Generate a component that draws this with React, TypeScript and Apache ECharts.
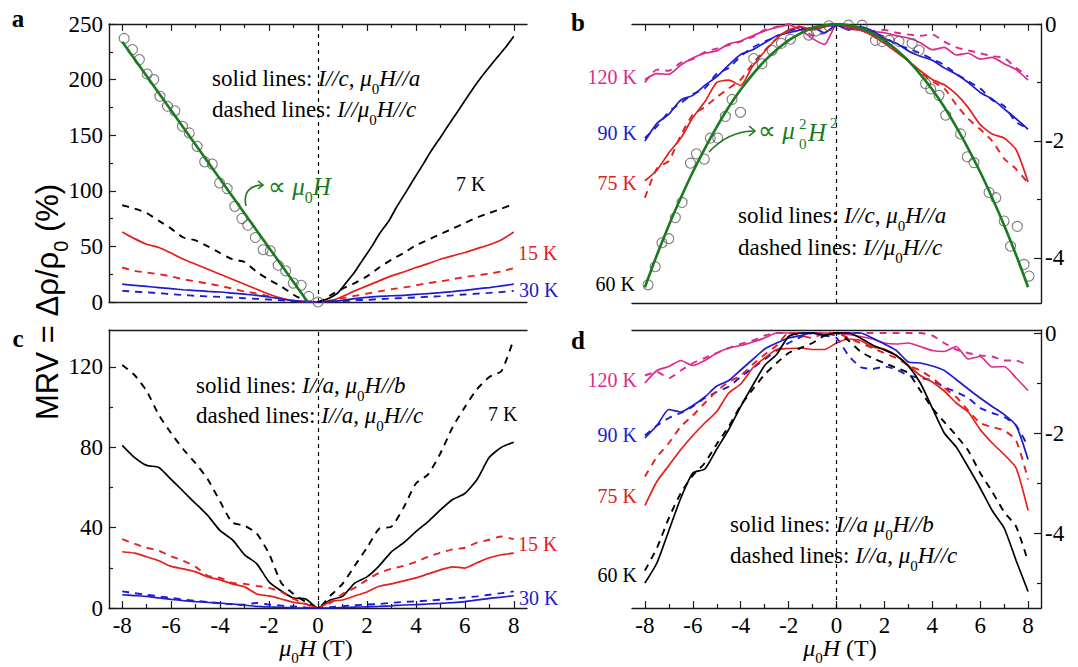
import React, { useEffect, useRef } from 'react';
import * as echarts from 'echarts';

// ---------- data ----------
const H = [-8,-7.5,-7,-6.5,-6,-5.5,-5,-4.5,-4,-3.5,-3,-2.5,-2,-1.5,-1,-0.5,0,0.5,1,1.5,2,2.5,3,3.5,4,4.5,5,5.5,6,6.5,7,7.5,8];

const xTicks = [-8,-6,-4,-2,0,2,4,6,8];
const xMinor = [-7,-5,-3,-1,1,3,5,7];
const aYTicks = [0,50,100,150,200,250];
const aYMinor = [25,75,125,175,225];
const bYTicks = [0,-2,-4];
const bYMinor = [-1,-3];
const cYTicks = [0,40,80,120];
const cYMinor = [20,60,100];
const dYTicks = [0,-2,-4];
const dYMinor = [-1,-3,-5];

// panel a
const aK7d = [87,84,80,73,66,58,55.5,50,44,38.5,36,27,20,14,6.5,1,0,6,12,17,23,31,38,44,51,56,61,66,71,76,80,84,88];
const aK15s = [63,57,52,49,44,38.5,34,29.5,25,20.5,16,11.5,7,3.5,1,0,0,1,5,10,14.5,19,23.5,27,31,34.5,38.5,41.5,44.5,48,51.5,56,63];
const aK15d = [31,28,26.5,25,23,20.5,18.5,16.5,14.5,12,9.5,7.5,5,3,1.2,0.3,0,1.3,3.5,5.5,7.5,9.5,11.5,13,15,17,18.5,20.5,22.5,24,25.5,27.5,30.5];
const aK30s = [16,15,14,13,12,11,10.3,9.6,9,8,7,6,4.5,2.7,1.2,0.3,0,0.5,1.5,3,4.2,5,5.6,6,6.8,7.6,8.4,9.4,10.5,11.8,13,14.5,16];
const aK30d = [10,9.3,8.7,8,7,6.3,5.6,5,4.6,4,3.4,2.8,2.2,1.5,0.8,0.2,0,0.3,0.8,1.5,2,2.6,3.1,3.6,4.1,4.7,5.3,6,6.8,7.5,8.2,9,10];
const aK7sX = [0,0.4,0.8,1.1,1.5,1.8,2.2,2.5,2.9,3.2,3.6,3.9,4.3,4.6,5.0,5.3,5.7,6.0,6.4,6.7,7.1,7.4,7.7,8.0];
const aK7sY = [0,3,8,16,27,37,50,61,73,85,99,110,124,135,148,158,171,181,194,203,214,222,230,239];
const aCircX = [-7.92,-7.58,-7.30,-6.98,-6.71,-6.46,-6.15,-5.85,-5.54,-5.26,-4.94,-4.63,-4.32,-4.02,-3.71,-3.40,-3.11,-2.87,-2.56,-2.24,-1.95,-1.63,-1.32,-1.01,-0.69,-0.38,0.0];
const aCircY = [237,227,218,205,200,185,176,172,158,152,140,126,124,107,102,86,75,69,58,47,46,33,28,17,15,5,0];
const aFitX = [-8,-0.42];
const aFitY = [234,0];

// panel b
const bFitY = [-4.5,-3.95,-3.44,-2.97,-2.53,-2.13,-1.76,-1.42,-1.12,-0.86,-0.63,-0.44,-0.28,-0.16,-0.07,-0.02,0,-0.02,-0.07,-0.16,-0.28,-0.44,-0.63,-0.86,-1.12,-1.42,-1.76,-2.13,-2.53,-2.97,-3.44,-3.95,-4.5];
const bCircX = [-7.87,-7.57,-7.29,-7.01,-6.73,-6.45,-6.10,-5.85,-5.52,-5.27,-4.96,-4.64,-4.36,-4.01,-3.46,-3.11,-2.69,-2.3,-1.92,-1.16,-0.85,-0.32,0.5,1.07,1.63,1.91,2.19,2.61,3.16,3.45,3.72,3.93,4.28,4.56,5.18,5.46,5.74,6.37,6.65,7.0,7.27,7.55,7.83,8.04];
const bCircY = [-4.46,-4.15,-3.74,-3.67,-3.31,-3.05,-2.38,-2.22,-2.31,-1.95,-1.95,-1.58,-1.29,-1.51,-0.59,-0.68,-0.45,-0.33,-0.26,-0.19,-0.12,-0.03,-0.02,-0.02,-0.28,-0.30,-0.28,-0.30,-0.33,-0.45,-1.02,-1.11,-1.22,-1.56,-1.88,-2.27,-2.37,-2.88,-2.97,-3.37,-3.80,-3.46,-4.11,-4.31];
const bK120s = [-0.95,-0.85,-0.86,-0.7,-0.58,-0.5,-0.46,-0.34,-0.29,-0.2,-0.12,-0.06,-0.02,-0.1,-0.25,-0.35,-0.02,-0.08,-0.11,-0.13,-0.15,-0.2,-0.24,-0.32,-0.44,-0.4,-0.53,-0.5,-0.6,-0.57,-0.68,-0.78,-0.96];
const bK120d = [-1.0,-0.78,-0.8,-0.66,-0.6,-0.48,-0.42,-0.36,-0.3,-0.22,-0.1,-0.05,0,-0.05,-0.2,-0.15,0,-0.05,-0.1,-0.12,-0.1,-0.15,-0.18,-0.2,-0.18,-0.3,-0.4,-0.45,-0.5,-0.55,-0.58,-0.75,-0.9];
const bK90s = [-2.0,-1.7,-1.54,-1.3,-1.22,-1.05,-0.9,-0.7,-0.52,-0.44,-0.32,-0.2,-0.15,-0.1,-0.06,-0.15,-0.02,-0.1,-0.05,-0.12,-0.25,-0.33,-0.46,-0.55,-0.62,-0.75,-0.86,-1.0,-1.17,-1.28,-1.45,-1.62,-1.8];
const bK90d = [-1.95,-1.75,-1.5,-1.35,-1.2,-1.1,-0.85,-0.75,-0.55,-0.4,-0.3,-0.22,-0.12,-0.08,-0.1,-0.05,0,-0.05,-0.08,-0.15,-0.22,-0.35,-0.42,-0.5,-0.6,-0.7,-0.85,-0.98,-1.1,-1.3,-1.4,-1.68,-1.78];
const bK75s = [-2.68,-2.5,-2.2,-1.95,-1.6,-1.33,-1.0,-0.96,-1.05,-0.72,-0.47,-0.25,-0.1,-0.05,-0.1,-0.05,0,-0.05,-0.1,-0.2,-0.33,-0.48,-0.63,-0.8,-0.95,-1.04,-1.2,-1.43,-1.72,-1.88,-1.95,-2.15,-2.7];
const bK75d = [-2.97,-2.47,-2.34,-1.9,-1.55,-1.42,-1.25,-1.1,-0.95,-0.68,-0.45,-0.25,-0.12,-0.05,-0.08,-0.03,0,-0.05,-0.1,-0.2,-0.32,-0.45,-0.62,-0.82,-0.98,-1.1,-1.38,-1.62,-1.8,-2.0,-2.3,-2.48,-2.72];

// panel c
const cK7d = [121,116,108,96,87,79,72,64,53,42.5,41,37,27,12.5,7,3,0,6,12,21,30,39.5,40.5,50,62,66.5,77,90,100,109,115,118,134];
const cK7s = [81,75,71,70,64,58,52,46,38.5,34,26.5,22,13,8.5,5,4.5,0,4,5.8,12.4,15.5,21,28,32.5,38,43,48.8,54,57,64,75,80,82.5];
const cK15d = [34.3,32,30,28.5,25.7,23.5,20.5,16,15,12.5,12,11,10,8,4.5,2,0,2.5,7,10,14,17.5,19.5,21,23,25.5,27.5,29.2,30,32.5,34,35.6,34.3];
const cK15s = [28,27.3,25.5,23.5,20.7,19.5,18,15.5,14,12,10.5,7,6,4.5,2.8,2,0,3.3,4,6,8,10.8,12,13.5,15,17,19,20.5,19.9,22.5,25,26.5,27.3];
const cK30s = [6.6,6.2,5.8,5,4.3,3.7,3.2,2.8,2.5,2,1.4,0.8,0.5,0.3,0.1,0,0,0,0.2,0.4,0.6,0.8,1.1,1.5,1.7,2,2.3,2.7,3.2,4,4.8,5.4,6.1];
const cK30d = [8.3,7.4,6.6,5.8,5,4.2,3.6,3,2.3,1.8,1.6,2.5,1.7,1.2,0.8,0.3,0,0.4,0.9,1.4,1.7,2,2.6,3,3.3,3.7,4.1,4.6,5.2,5.8,6.6,7.4,8.3];

// panel d
const dK60s = [-5.0,-4.6,-3.95,-3.3,-2.8,-2.72,-2.32,-1.93,-1.47,-1.05,-0.65,-0.43,-0.07,0,0,-0.05,0,0,-0.1,-0.24,-0.34,-0.45,-0.66,-1.0,-1.5,-2.0,-2.28,-2.68,-3.1,-3.55,-3.9,-4.55,-5.17];
const dK60d = [-4.75,-4.3,-3.7,-3.2,-2.85,-2.6,-2.22,-1.87,-1.45,-1.13,-0.83,-0.6,-0.4,-0.3,-0.2,-0.05,0,-0.15,-0.37,-0.5,-0.6,-0.7,-0.8,-1.15,-1.5,-1.78,-2.05,-2.35,-2.8,-3.17,-3.58,-3.87,-4.57];
const dK75s = [-3.45,-2.97,-2.65,-2.33,-2.05,-1.8,-1.57,-1.2,-1.02,-0.7,-0.5,-0.33,-0.31,-0.3,-0.33,-0.33,-0.2,-0.12,-0.15,-0.28,-0.32,-0.45,-0.65,-0.85,-0.98,-1.16,-1.4,-1.58,-1.93,-2.2,-2.43,-2.7,-3.55];
const dK75d = [-2.87,-2.48,-2.2,-1.87,-1.65,-1.4,-1.16,-0.98,-0.85,-0.63,-0.43,-0.25,0,-0.05,-0.1,0,0,-0.1,-0.2,-0.3,-0.4,-0.5,-0.65,-0.75,-0.9,-1.1,-1.28,-1.55,-1.8,-1.88,-1.95,-2.15,-2.93];
const dK90s = [-2.1,-1.85,-1.53,-1.58,-1.45,-1.28,-1.06,-0.95,-0.74,-0.53,-0.32,-0.2,-0.1,-0.05,0,-0.03,0,0,0,-0.1,-0.22,-0.35,-0.58,-0.6,-0.66,-0.75,-0.93,-1.12,-1.3,-1.47,-1.63,-1.85,-2.53];
const dK90d = [-2.05,-1.85,-1.7,-1.6,-1.47,-1.3,-1.18,-1.07,-0.88,-0.7,-0.53,-0.35,-0.2,-0.08,0,-0.05,-0.1,-0.45,-0.68,-0.72,-0.67,-0.73,-0.85,-0.9,-0.95,-1.08,-1.18,-1.3,-1.5,-1.6,-1.68,-1.85,-2.27];
const dK120s = [-1.0,-0.75,-0.67,-0.55,-0.65,-0.55,-0.4,-0.3,-0.25,-0.18,-0.1,0,0,0,0,0,0,-0.03,-0.07,-0.12,-0.2,-0.22,-0.2,-0.27,-0.35,-0.37,-0.27,-0.52,-0.47,-0.68,-0.67,-0.9,-1.15];
const dK120d = [-0.85,-0.78,-0.9,-0.75,-0.6,-0.5,-0.4,-0.3,-0.22,-0.15,-0.05,0,0,0,0,0,-0.05,0,0,0,0,0,0,0,-0.05,-0.2,-0.33,-0.4,-0.45,-0.47,-0.55,-0.55,-0.65];

// ---------- styles ----------
const SERIF = '"Liberation Serif", "Times New Roman", serif';
const SANS = '"Liberation Sans", Arial, sans-serif';
const AXC = '#1a1a1a';
const BLACK = '#000000';
const RED = '#e3201c';
const BLUE = '#1c1cd2';
const MAG = '#dc2a8c';
const GREEN = '#1a7a1f';
const XMIN = -8.54;
const XMAX = 8.54;

function xAx(gridIndex: number, position: string, o: any) {
  return {
    type: 'value', gridIndex, position, min: XMIN, max: XMAX,
    splitLine: { show: false },
    axisLine: { show: !!o.line, onZero: false, lineStyle: { color: AXC, width: 1.4 } },
    axisTick: { show: !!o.ticks, inside: true, length: o.len || 7, customValues: o.ticks, lineStyle: { color: AXC, width: 1.2 } },
    axisLabel: { show: !!o.labels, customValues: o.labels, margin: 6, fontFamily: SERIF, fontSize: 23, color: '#000' },
  };
}
function yAx(gridIndex: number, position: string, min: number, max: number, o: any) {
  return {
    type: 'value', gridIndex, position, min, max,
    splitLine: { show: false },
    axisLine: { show: !!o.line, onZero: false, lineStyle: { color: AXC, width: 1.4 } },
    axisTick: { show: !!o.ticks, inside: true, length: o.len || 7, customValues: o.ticks, lineStyle: { color: AXC, width: 1.2 } },
    axisLabel: { show: !!o.labels, customValues: o.labels, margin: position === 'left' ? 6 : 4, fontFamily: SERIF, fontSize: 23, color: '#000' },
  };
}

const zeroLine = {
  silent: true, symbol: 'none', label: { show: false },
  lineStyle: { color: '#000', type: [4, 4], width: 1.2 },
  data: [{ xAxis: 0 }],
};

function ln(xi: number, yi: number, ys: number[], color: string, dashed: boolean, extra: any = {}) {
  return {
    type: 'line', xAxisIndex: xi, yAxisIndex: yi,
    data: H.map((x, i) => [x, ys[i]]),
    showSymbol: false, symbol: 'none', smooth: 0.2, silent: true, z: 3,
    lineStyle: { color, width: dashed ? 1.9 : 1.7, type: dashed ? [7, 6] : 'solid' },
    ...extra,
  };
}

function rich(S: number, color: string, fam: string = SERIF) {
  const sub = Math.round(S * 0.64);
  return {
    r: { fontFamily: fam, fontSize: S, lineHeight: S + 2, verticalAlign: 'top', fill: color },
    i: { fontFamily: fam, fontSize: S, fontStyle: 'italic', lineHeight: S + 2, verticalAlign: 'top', fill: color },
    s: { fontFamily: fam, fontSize: sub, lineHeight: sub, padding: [Math.round(S * 0.6), 0, 0, 0], verticalAlign: 'top', fill: color },
  };
}

function rtext(x: number, yc: number, text: string, S: number, color: string, align = 'left', fam = SERIF) {
  return {
    type: 'text', x, y: yc - Math.round((S + 2) / 2), z: 100,
    style: { text, rich: rich(S, color, fam), fill: color, textAlign: align, textVerticalAlign: 'top' },
  };
}
function ptext(x: number, y: number, text: string, color: string, size = 20, align = 'left', extra = '') {
  return {
    type: 'text', x, y, z: 100,
    style: { text, font: `${extra}${size}px "Liberation Serif"`, fill: color, textAlign: align, textVerticalAlign: 'middle' },
  };
}

const graphics: any[] = [
  ptext(18, 18, 'a', '#000', 25, 'center', 'bold '),
  ptext(578, 22, 'b', '#000', 25, 'center', 'bold '),
  ptext(18, 338, 'c', '#000', 25, 'center', 'bold '),
  ptext(578, 340, 'd', '#000', 25, 'center', 'bold '),
  // annotations
  rtext(212, 80, '{r|solid lines: }{i|I//c}{r|, }{i|μ}{s|0}{i|H//a}', 23, '#000'),
  rtext(212, 111, '{r|dashed lines: }{i|I//μ}{s|0}{i|H//c}', 23, '#000'),
  rtext(738, 217, '{r|solid lines: }{i|I//c}{r|, }{i|μ}{s|0}{i|H//a}', 23, '#000'),
  rtext(738, 249, '{r|dashed lines: }{i|I//μ}{s|0}{i|H//c}', 23, '#000'),
  rtext(196, 387, '{r|solid lines: }{i|I//a}{r|, }{i|μ}{s|0}{i|H//b}', 23, '#000'),
  rtext(196, 417, '{r|dashed lines: }{i|I//a}{r|, }{i|μ}{s|0}{i|H//c}', 23, '#000'),
  rtext(730, 526, '{r|solid lines: }{i|I//a μ}{s|0}{i|H//b}', 23, '#000'),
  rtext(730, 557, '{r|dashed lines: }{i|I//a}{r|, }{i|μ}{s|0}{i|H//c}', 23, '#000'),
  // temperature labels
  ptext(456, 184, '7 K', BLACK), ptext(518, 253, '15 K', RED), ptext(519, 290, '30 K', BLUE),
  ptext(488, 414, '7 K', BLACK), ptext(518, 544, '15 K', RED), ptext(519, 598, '30 K', BLUE),
  ptext(637, 77, '120 K', MAG, 20, 'right'), ptext(637, 133, '90 K', BLUE, 20, 'right'),
  ptext(637, 183, '75 K', RED, 20, 'right'), ptext(635, 284, '60 K', BLACK, 20, 'right'),
  ptext(637, 380, '120 K', MAG, 20, 'right'), ptext(637, 435, '90 K', BLUE, 20, 'right'),
  ptext(637, 496, '75 K', RED, 20, 'right'), ptext(637, 575, '60 K', BLACK, 20, 'right'),
  // axis titles
  rtext(316, 649, '{i|μ}{s|0}{i|H}{r| (T)}', 24, '#000', 'center'),
  rtext(840, 649, '{i|μ}{s|0}{i|H}{r| (T)}', 24, '#000', 'center'),
  {
    type: 'text', x: 48, y: 302, rotation: Math.PI / 2, z: 100,
    style: { text: '{r|MRV = Δρ/ρ}{s|0}{r| (%)}', rich: rich(31, '#000', SANS), fill: '#000', textAlign: 'center', textVerticalAlign: 'middle' },
  },
  // green annotations
  rtext(268, 188, '{r|∝ }{i|μ}{s|0}{i|H}', 25, GREEN),
  rtext(758, 132, '{r|∝ }{i|μ}', 25, GREEN),
  ptext(799, 124, '2', GREEN, 15),
  ptext(799, 144, '0', GREEN, 15),
  ptext(808, 132, 'H', GREEN, 25, 'left', 'italic '),
  ptext(830, 123, '2', GREEN, 15),
  { type: 'bezierCurve', z: 100, shape: { x1: 246, y1: 206, cpx1: 243, cpy1: 192, cpx2: 250, cpy2: 185, x2: 263, y2: 185 }, style: { stroke: GREEN, lineWidth: 1.6, fill: null } },
  { type: 'polyline', z: 100, shape: { points: [[258, 181], [263, 185], [258, 189]] }, style: { stroke: GREEN, lineWidth: 1.6, fill: null } },
  { type: 'bezierCurve', z: 100, shape: { x1: 709, y1: 152, cpx1: 722, cpy1: 138, cpx2: 736, cpy2: 131, x2: 755, y2: 131 }, style: { stroke: GREEN, lineWidth: 1.6, fill: null } },
  { type: 'polyline', z: 100, shape: { points: [[749, 126], [755, 131], [749, 136]] }, style: { stroke: GREEN, lineWidth: 1.6, fill: null } },
];

const option: any = {
  animation: false,
  backgroundColor: '#ffffff',
  grid: [
    { left: 109, top: 24, width: 418, height: 278 },
    { left: 632, top: 24, width: 409, height: 279 },
    { left: 109, top: 330, width: 418, height: 278 },
    { left: 632, top: 330, width: 409, height: 278 },
  ],
  xAxis: [
    xAx(0, 'bottom', { line: true }),
    xAx(0, 'top', { line: true, ticks: xTicks, len: 7 }),
    xAx(0, 'top', { ticks: xMinor, len: 4 }),
    xAx(1, 'bottom', { line: true }),
    xAx(1, 'top', { line: true, ticks: xTicks, len: 7 }),
    xAx(1, 'top', { ticks: xMinor, len: 4 }),
    xAx(2, 'bottom', { line: true, ticks: xTicks, labels: xTicks, len: 7 }),
    xAx(2, 'top', { line: true }),
    xAx(2, 'bottom', { ticks: xMinor, len: 4 }),
    xAx(3, 'bottom', { line: true, ticks: xTicks, labels: xTicks, len: 7 }),
    xAx(3, 'top', { line: true }),
    xAx(3, 'bottom', { ticks: xMinor, len: 4 }),
  ],
  yAxis: [
    yAx(0, 'left', 0, 250, { line: true, ticks: aYTicks, labels: aYTicks, len: 7 }),
    yAx(0, 'left', 0, 250, { ticks: aYMinor, len: 4 }),
    yAx(1, 'right', -4.77, 0, { line: true, ticks: bYTicks, labels: bYTicks, len: 7 }),
    yAx(1, 'right', -4.77, 0, { ticks: bYMinor, len: 4 }),
    yAx(2, 'left', 0, 138.4, { line: true, ticks: cYTicks, labels: cYTicks, len: 7 }),
    yAx(2, 'left', 0, 138.4, { ticks: cYMinor, len: 4 }),
    yAx(3, 'right', -5.5, 0.06, { line: true, ticks: dYTicks, labels: dYTicks, len: 7 }),
    yAx(3, 'right', -5.5, 0.06, { ticks: dYMinor, len: 4 }),
  ],
  series: [
    // panel a
    ln(0, 0, aK7d, BLACK, true, { markLine: zeroLine }),
    ln(0, 0, aK15s, RED, false),
    ln(0, 0, aK15d, RED, true),
    ln(0, 0, aK30s, BLUE, false),
    ln(0, 0, aK30d, BLUE, true),
    {
      type: 'line', xAxisIndex: 0, yAxisIndex: 0, data: aK7sX.map((x, i) => [x, aK7sY[i]]),
      showSymbol: false, symbol: 'none', smooth: 0.2, silent: true, z: 3,
      lineStyle: { color: BLACK, width: 1.7 },
    },
    {
      type: 'scatter', xAxisIndex: 0, yAxisIndex: 0, data: aCircX.map((x, i) => [x, aCircY[i]]),
      symbol: 'circle', symbolSize: 10, silent: true, z: 4,
      itemStyle: { color: 'rgba(255,255,255,0)', borderColor: '#5c5c5c', borderWidth: 1.1 },
    },
    {
      type: 'line', xAxisIndex: 0, yAxisIndex: 0, data: aFitX.map((x, i) => [x, aFitY[i]]),
      showSymbol: false, symbol: 'none', silent: true, z: 5,
      lineStyle: { color: GREEN, width: 2.6 },
    },
    // panel b
    ln(3, 2, bK120s, MAG, false, { markLine: zeroLine }),
    ln(3, 2, bK120d, MAG, true),
    ln(3, 2, bK90s, BLUE, false),
    ln(3, 2, bK90d, BLUE, true),
    ln(3, 2, bK75s, RED, false),
    ln(3, 2, bK75d, RED, true),
    {
      type: 'scatter', xAxisIndex: 3, yAxisIndex: 2, data: bCircX.map((x, i) => [x, bCircY[i]]),
      symbol: 'circle', symbolSize: 10, silent: true, z: 4,
      itemStyle: { color: 'rgba(255,255,255,0)', borderColor: '#5c5c5c', borderWidth: 1.1 },
    },
    ln(3, 2, bFitY, GREEN, false, { z: 5, smooth: 0.4, lineStyle: { color: GREEN, width: 2.6 } }),
    // panel c
    ln(6, 4, cK7d, BLACK, true, { markLine: zeroLine }),
    ln(6, 4, cK7s, BLACK, false),
    ln(6, 4, cK15d, RED, true),
    ln(6, 4, cK15s, RED, false),
    ln(6, 4, cK30d, BLUE, true),
    ln(6, 4, cK30s, BLUE, false),
    // panel d
    ln(9, 6, dK120s, MAG, false, { markLine: zeroLine }),
    ln(9, 6, dK120d, MAG, true),
    ln(9, 6, dK90s, BLUE, false),
    ln(9, 6, dK90d, BLUE, true),
    ln(9, 6, dK75s, RED, false),
    ln(9, 6, dK75d, RED, true),
    ln(9, 6, dK60s, BLACK, false),
    ln(9, 6, dK60d, BLACK, true),
  ],
  graphic: { elements: graphics },
};

export default function App() {
  const ref = useRef<HTMLDivElement>(null);
  useEffect(() => {
    const chart = echarts.init(ref.current as HTMLDivElement, null, { renderer: 'svg' });
    chart.setOption(option);
    return () => chart.dispose();
  }, []);
  return (
    <div
      ref={ref}
      style={{ position: 'absolute', left: 0, top: 0, width: 1078, height: 667, background: '#fff' }}
    />
  );
}
